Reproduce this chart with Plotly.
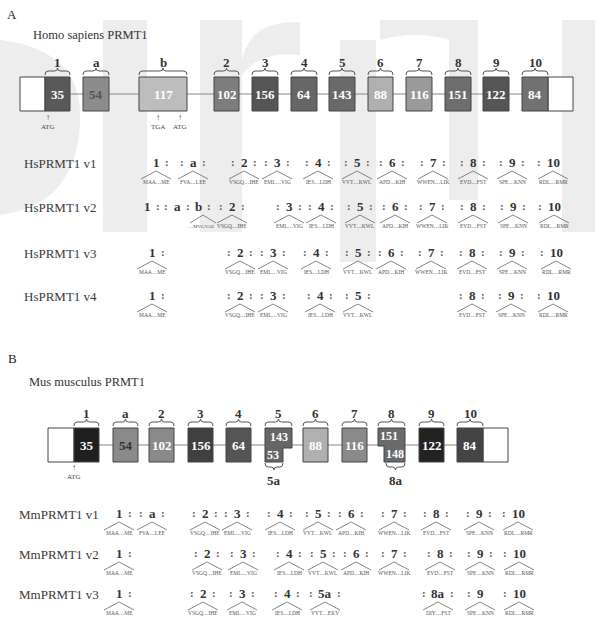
import plotly.graph_objects as go

W, H = 595, 633
FONT = "Liberation Serif"

# ---------------- data ----------------
hs_exon_names = ["1", "a", "b", "2", "3", "4", "5", "6", "7", "8", "9", "10"]
hs_exon_sizes = [35, 54, 117, 102, 156, 64, 143, 88, 116, 151, 122, 84]
hs_exon_fill = ["#595959", "#8c8c8c", "#bdbdbd", "#7d7d7d", "#555555", "#666666",
                "#6a6a6a", "#b0b0b0", "#9a9a9a", "#6e6e6e", "#555555", "#727272"]
hs_exon_text = ["#ffffff", "#555555", "#ffffff", "#ffffff", "#ffffff", "#ffffff",
                "#ffffff", "#ffffff", "#ffffff", "#ffffff", "#ffffff", "#ffffff"]
hs_x0 = [45, 83, 139, 214, 252, 291, 329, 368, 406, 445, 483, 522]
hs_x1 = [70, 109, 187, 239, 278, 317, 355, 393, 432, 471, 509, 548]

mm_exon_names = ["1", "a", "2", "3", "4", "5", "6", "7", "8", "9", "10"]
mm_exon_sizes = ["35", "54", "102", "156", "64", "143", "88", "116", "151", "122", "84"]
mm_exon_alt = ["", "", "", "", "", "53", "", "", "148", "", ""]
mm_exon_fill = ["#1f1f1f", "#8a8a8a", "#8a8a8a", "#404040", "#555555", "#666666",
                "#b0b0b0", "#8a8a8a", "#6a6a6a", "#222222", "#444444"]
mm_exon_text = ["#ffffff", "#333333", "#ffffff", "#ffffff", "#ffffff", "#ffffff",
                "#ffffff", "#ffffff", "#ffffff", "#ffffff", "#ffffff"]
mm_x0 = [74, 113, 149, 188, 226, 265, 303, 342, 378, 419, 457]
mm_x1 = [99, 138, 174, 213, 251, 292, 328, 367, 405, 444, 483]

PEP = {"1": "MAA…ME", "a": "FVA…LEE", "b": "…MVGVAE", "2": "VSGQ…IHE", "3": "EML…VIG",
       "4": "IES…LDH", "5": "VVT…KWL", "6": "APD…KIH", "7": "WWEN…LIK", "8": "EVD…FST",
       "9": "SPE…KNN", "10": "RDL…RMR", "5a": "VVT…EKV", "8a": "DIY…FST"}

# variant rows: label, exon names, colon flags, caret flags
variants = [
    dict(label="HsPRMT1 v1",
         exons=["1", "a", "2", "3", "4", "5", "6", "7", "8", "9", "10"],
         colons=["r", "lr", "lr", "lr", "lr", "lr", "lr", "lr", "lr", "lr", "l"],
         carets=[1] * 11),
    dict(label="HsPRMT1 v2",
         exons=["1", "a", "b", "2", "3", "4", "5", "6", "7", "8", "9", "10"],
         colons=["r", "lr", "r", "lr", "lr", "lr", "lr", "lr", "lr", "lr", "lr", "l"],
         carets=[0, 0, 1, 1, 1, 1, 1, 1, 1, 1, 1, 1]),
    dict(label="HsPRMT1 v3",
         exons=["1", "2", "3", "4", "5", "6", "7", "8", "9", "10"],
         colons=["r", "lr", "lr", "lr", "lr", "lr", "lr", "lr", "lr", "l"],
         carets=[1] * 10),
    dict(label="HsPRMT1 v4",
         exons=["1", "2", "3", "4", "5", "8", "9", "10"],
         colons=["r", "lr", "lr", "lr", "lr", "lr", "lr", "l"],
         carets=[1] * 8),
    dict(label="MmPRMT1 v1",
         exons=["1", "a", "2", "3", "4", "5", "6", "7", "8", "9", "10"],
         colons=["r", "lr", "lr", "lr", "lr", "lr", "lr", "lr", "lr", "lr", "l"],
         carets=[1] * 11),
    dict(label="MmPRMT1 v2",
         exons=["1", "2", "3", "4", "5", "6", "7", "8", "9", "10"],
         colons=["r", "lr", "lr", "lr", "lr", "lr", "lr", "lr", "lr", "l"],
         carets=[1] * 10),
    dict(label="MmPRMT1 v3",
         exons=["1", "2", "3", "4", "5a", "8a", "9", "10"],
         colons=["r", "lr", "lr", "lr", "lr", "lr", "l", "l"],
         carets=[1] * 8),
]

# layout positions of the variant rows
var_x = [
    [156, 193, 244, 277, 318, 357, 392, 433, 473, 512, 553],
    [147, 177, 198, 232, 289, 321, 360, 395, 432, 473, 513, 554],
    [152, 240, 273, 316, 358, 391, 431, 472, 512, 556],
    [152, 240, 273, 320, 358, 472, 511, 553],
    [119, 152, 205, 237, 280, 318, 351, 394, 436, 479, 518],
    [119, 207, 243, 289, 323, 356, 394, 440, 480, 519],
    [119, 203, 242, 287, 325, 438, 480, 519],
]
var_y = [162, 206, 252, 295, 513, 553, 593]
var_label_x = [22, 22, 22, 22, 17, 17, 17]

# ---------------- figure ----------------
shapes = []
ann = []


def text(x, y, s, size, color="#333333", bold=False, xanchor="center"):
    if bold:
        s = "<b>" + s + "</b>"
    ann.append(dict(x=x, y=y, text=s, showarrow=False, xref="x", yref="y",
                    xanchor=xanchor, yanchor="middle",
                    font=dict(family=FONT, size=size, color=color)))


def rect(x0, y0, x1, y1, fill, line="#444444", lw=1, layer="above"):
    shapes.append(dict(type="rect", xref="x", yref="y", x0=x0, y0=y0, x1=x1, y1=y1,
                       fillcolor=fill, line=dict(color=line, width=lw), layer=layer))


def path(d, color="#555555", lw=1, fill=None, layer="above"):
    s = dict(type="path", xref="x", yref="y", path=d,
             line=dict(color=color, width=lw), layer=layer)
    if fill:
        s["fillcolor"] = fill
    shapes.append(s)


def line(x0, y0, x1, y1, color="#888888", lw=1):
    shapes.append(dict(type="line", xref="x", yref="y", x0=x0, y0=y0, x1=x1, y1=y1,
                       line=dict(color=color, width=lw), layer="above"))


def brace(x0, x1, y, up=True):
    xc = (x0 + x1) / 2
    s = 1 if up else -1
    d = (f"M{x0},{y + 4 * s} Q{x0},{y} {x0 + 3},{y} L{xc - 3},{y} Q{xc},{y} {xc},{y - 3 * s} "
         f"Q{xc},{y} {xc + 3},{y} L{x1 - 3},{y} Q{x1},{y} {x1},{y + 4 * s}")
    path(d, color="#555555", lw=1)


# --- watermark (faint) ---
wm = "#ededed"
path("M0,40 Q85,50 80,125 Q75,205 0,215 Z", color=wm, lw=0, fill=wm, layer="below")
rect(103, 20, 147, 232, wm, line=wm, lw=0, layer="below")
rect(200, 20, 242, 232, wm, line=wm, lw=0, layer="below")
path("M242,60 Q250,20 300,22 L300,55 Q260,50 242,75 Z", color=wm, lw=0, fill=wm, layer="below")
rect(340, 40, 376, 262, wm, line=wm, lw=0, layer="below")
rect(449, 20, 478, 200, wm, line=wm, lw=0, layer="below")
path("M380,20 L450,20 L450,40 Q415,30 380,40 Z", color=wm, lw=0, fill=wm, layer="below")
rect(562, 20, 595, 232, wm, line=wm, lw=0, layer="below")

# --- panel A ---
text(12, 14, "A", 13, "#222222", xanchor="center")
text(31, 35, "Homo sapiens PRMT1", 12.5, "#333333", xanchor="left")
yA0, yA1 = 77, 111
ymA = (yA0 + yA1) / 2
line(20, ymA, 573, ymA)
rect(20, yA0, 45, yA1, "white")
rect(548, yA0, 573, yA1, "white")
for nm, sz, f, tc, x0, x1 in zip(hs_exon_names, hs_exon_sizes, hs_exon_fill, hs_exon_text, hs_x0, hs_x1):
    rect(x0, yA0, x1, yA1, f)
    text((x0 + x1) / 2, ymA, str(sz), 13, tc, bold=True)
    brace(x0, x1, 71)
    text((x0 + x1) / 2, 62, nm, 13, "#333333", bold=True)
for ax, lab in [(48, "ATG"), (158, "TGA"), (180, "ATG")]:
    text(ax, 117, "↑", 8, "#444444")
    text(ax, 127, lab, 7, "#444444")

# --- panel B ---
text(12, 358, "B", 13, "#222222")
text(27, 382, "Mus musculus PRMT1", 12.5, "#333333", xanchor="left")
yB0, yB1 = 428, 462
ymB = (yB0 + yB1) / 2
line(48, ymB, 508, ymB)
rect(48, yB0, 74, yB1, "white")
rect(483, yB0, 508, yB1, "white")
for nm, sz, alt, f, tc, x0, x1 in zip(mm_exon_names, mm_exon_sizes, mm_exon_alt, mm_exon_fill,
                                      mm_exon_text, mm_x0, mm_x1):
    xc = (x0 + x1) / 2
    if alt == "":
        rect(x0, yB0, x1, yB1, f)
        text(xc, ymB, sz, 13, tc, bold=True)
    elif nm == "5":
        ys = 448
        xn = x1 - 9
        path(f"M{x0},{yB0} L{x1},{yB0} L{x1},{ys} L{xn},{ys} L{xn},{yB1} L{x0},{yB1} Z",
             color="#444444", lw=1, fill=f)
        text(xc, 437, sz, 12, tc, bold=True)
        text(x0 + 8, 455, alt, 12, tc, bold=True)
        brace(x0, xn, 467, up=False)
        text((x0 + xn) / 2, 480, nm + "a", 13, "#333333", bold=True)
    else:
        ys = 446
        xn = x0 + 6
        path(f"M{x0},{yB0} L{x1},{yB0} L{x1},{yB1} L{xn},{yB1} L{xn},{ys} L{x0},{ys} Z",
             color="#444444", lw=1, fill=f)
        text(xc - 3, 436, sz, 12, tc, bold=True)
        text(xc + 3, 454, alt, 12, tc, bold=True)
        brace(xn + 2, x1, 467, up=False)
        text((xn + 2 + x1) / 2, 480, nm + "a", 13, "#333333", bold=True)
    brace(x0, x1, 422)
    text(xc, 413, nm, 13, "#333333", bold=True)
text(74, 467, "↑", 8, "#444444")
text(74, 477, "ATG", 7, "#444444")

# --- variant rows ---
for v, xs, y, lx in zip(variants, var_x, var_y, var_label_x):
    text(lx, y + 1, v["label"], 13, "#3a3a3a", xanchor="left")
    for nm, cf, cr, x in zip(v["exons"], v["colons"], v["carets"], xs):
        text(x, y, nm, 13, "#333333", bold=True)
        off = 14 if len(nm) > 1 else 11
        if "l" in cf:
            text(x - off, y, ":", 11, "#555555", bold=True)
        if "r" in cf:
            text(x + off, y, ":", 11, "#555555", bold=True)
        if cr:
            isb = nm == "b"
            cx = x + (5 if isb else 0)
            hw = 13 if isb else 15
            path(f"M{cx - hw},{y + 17} L{cx},{y + 9} L{cx + hw},{y + 17}", color="#666666", lw=0.8)
            text(cx - (2 if isb else 0), y + 20, PEP[nm], 5 if isb else 5.5, "#555555")

fig = go.Figure()
fig.update_layout(
    width=W, height=H, margin=dict(l=0, r=0, t=0, b=0),
    paper_bgcolor="white", plot_bgcolor="white",
    xaxis=dict(range=[0, W], visible=False, fixedrange=True),
    yaxis=dict(range=[H, 0], visible=False, fixedrange=True),
    shapes=shapes, annotations=ann, showlegend=False,
)
fig.write_html("out.html")
